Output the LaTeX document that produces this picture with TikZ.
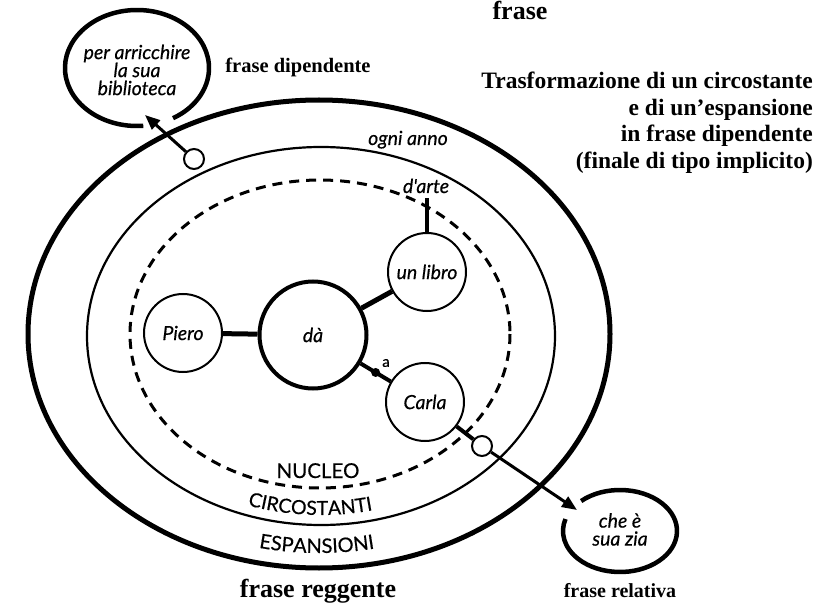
\documentclass[tikz,border=0pt]{standalone}
\usepackage{fontspec}
\setmainfont{Liberation Serif}
\newfontfamily\optfont[FakeBold=0.4]{Lato}
\usetikzlibrary{arrows.meta,decorations.text}
\begin{document}
\begin{tikzpicture}[x=1pt,y=-1pt,
  every node/.style={inner sep=0pt},
  wd/.style={font=\optfont\itshape\fontsize{19.5}{18}\selectfont, align=center},
  caps/.style={font=\optfont\fontsize{20.5}{20}\selectfont},
  bb/.style={font=\bfseries\fontsize{#1}{#1}\selectfont, anchor=base},
  ttl/.style={font=\bfseries\fontsize{23.5}{26}\selectfont, anchor=base east},
  ring/.style={circle, draw, fill=white, line width=2pt, minimum size=78pt, wd},
  hub/.style={circle, draw, fill=white, line width=4pt, minimum size=107pt, wd},
  knob/.style={circle, draw, fill=white, line width=2pt, minimum size=20pt},
  conn/.style={line width=5pt},
  arr/.style={line width=3pt, -{Triangle[length=15pt,width=12pt]}},
  gapring/.style={line width=4.5pt},
]
\useasboundingbox (0,0) rectangle (839,607);

% nested ellipses of the main clause
\draw[line width=5pt] (319,334) ellipse [x radius=291, y radius=234];
\draw[line width=2.2pt] (321,336) ellipse [x radius=234, y radius=189];
\draw[line width=3pt, dash pattern=on 10pt off 7pt] (320,334) ellipse [x radius=190, y radius=154];

% dependent clauses (open rings)
\draw[gapring] (137,68) ++(85:72 and 58) arc[start angle=85, end angle=420, x radius=72, y radius=58];
\draw[gapring] (620,531) ++(227:57 and 41) arc[start angle=227, end angle=557, x radius=57, y radius=41];

% nodes
\node[hub] (da) at (313,335) {dà};
\node[ring] (piero) at (183,333) {Piero};
\node[ring] (libro) at (427,272) {un libro};
\node[ring] (carla) at (425,402) {Carla};
\node[knob] (o1) at (194,159) {};
\node[knob] (o2) at (482,446) {};

\coordinate (dtop) at (427,198);
\coordinate (tip1) at (145,115);
\coordinate (tip2) at (577,510);

% connectors
\draw[conn] (piero) -- (da);
\draw[conn] (da) -- (libro);
\draw[line width=4pt] (da) -- node[circle, fill, minimum size=9pt] (adot) {} (carla);
\draw[line width=4.5pt] (libro) -- (dtop);
\draw[line width=4pt] (carla) -- (o2);
\draw[arr] (o1) -- (tip1);
\draw[arr] (o2) -- (tip2);

% labels
\node[font=\optfont\fontsize{15}{15}\selectfont] (alab) at (386,363) {a};
\node[wd, anchor=base] (ogni) at (408,145) {ogni anno};
\node[wd, anchor=base] (darte) at (426,193) {d'arte};
\node[wd] (dip) at (137,70) {per arricchire\\la sua\\biblioteca};
\node[wd] (zia) at (620,529.5) {che è\\sua zia};

\node[caps, anchor=base] (nuc) at (318,478) {NUCLEO};
\path[decorate, decoration={text along path, text align=center,
  text={|\optfont\fontsize{19.5}{19}\selectfont|CIRCOSTANTI}}]
  (321,336) ++(128:225 and 179) arc[start angle=128, end angle=58, x radius=225, y radius=179];
\path[decorate, decoration={text along path, text align=center,
  text={|\optfont\fontsize{20}{19}\selectfont|ESPANSIONI}}]
  (319,334) ++(125:276 and 219) arc[start angle=125, end angle=56, x radius=276, y radius=219];

\node[bb=26] (fr) at (520,20) {frase};
\node[bb=20.5] (fdip) at (298,73) {frase dipendente};
\node[bb=26] (freg) at (318,597) {frase reggente};
\node[bb=20] (frel) at (620,597) {frase relativa};

\node[ttl] (t1) at (813,89) {Trasformazione di un circostante};
\node[ttl] (t2) at (813,115.5) {e di un’espansione};
\node[ttl] (t3) at (813,142) {in frase dipendente};
\node[ttl] (t4) at (813,168.5) {(finale di tipo implicito)};
\end{tikzpicture}
\end{document}
